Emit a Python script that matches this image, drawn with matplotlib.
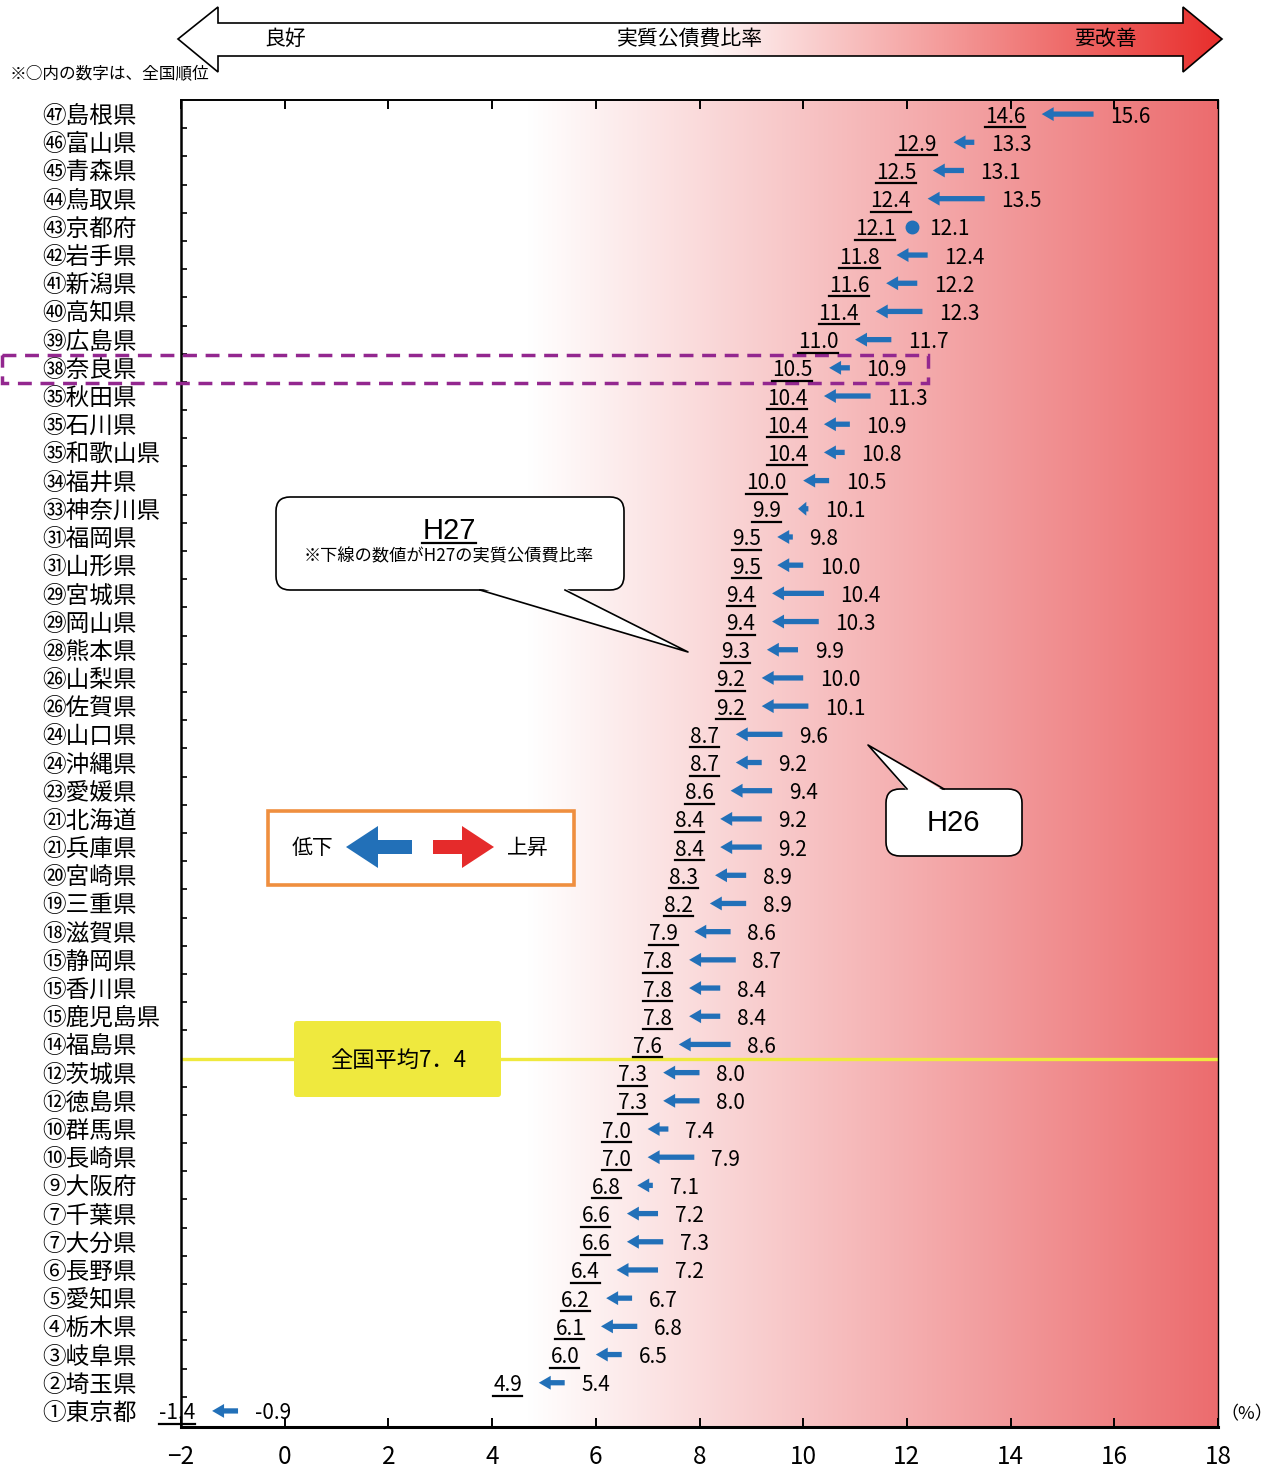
import numpy as np
import matplotlib
matplotlib.use('Agg')
import matplotlib.pyplot as plt
from matplotlib.patches import Polygon, FancyBboxPatch, Rectangle
from matplotlib.lines import Line2D

plt.rcParams['font.family'] = ['Noto Sans CJK JP', 'DejaVu Sans']

# data, top row (worst) first
ranks = [47, 46, 45, 44, 43, 42, 41, 40, 39, 38, 35, 35, 35, 34, 33, 31, 31, 29, 29, 28,
         26, 26, 24, 24, 23, 21, 21, 20, 19, 18, 15, 15, 15, 14, 12, 12, 10, 10, 9, 7,
         7, 6, 5, 4, 3, 2, 1]
prefs = ['島根県', '富山県', '青森県', '鳥取県', '京都府', '岩手県', '新潟県', '高知県', '広島県', '奈良県',
         '秋田県', '石川県', '和歌山県', '福井県', '神奈川県', '福岡県', '山形県', '宮城県', '岡山県', '熊本県',
         '山梨県', '佐賀県', '山口県', '沖縄県', '愛媛県', '北海道', '兵庫県', '宮崎県', '三重県', '滋賀県',
         '静岡県', '香川県', '鹿児島県', '福島県', '茨城県', '徳島県', '群馬県', '長崎県', '大阪府', '千葉県',
         '大分県', '長野県', '愛知県', '栃木県', '岐阜県', '埼玉県', '東京都']
h27 = [14.6, 12.9, 12.5, 12.4, 12.1, 11.8, 11.6, 11.4, 11.0, 10.5,
       10.4, 10.4, 10.4, 10.0, 9.9, 9.5, 9.5, 9.4, 9.4, 9.3,
       9.2, 9.2, 8.7, 8.7, 8.6, 8.4, 8.4, 8.3, 8.2, 7.9,
       7.8, 7.8, 7.8, 7.6, 7.3, 7.3, 7.0, 7.0, 6.8, 6.6,
       6.6, 6.4, 6.2, 6.1, 6.0, 4.9, -1.4]
h26 = [15.6, 13.3, 13.1, 13.5, 12.1, 12.4, 12.2, 12.3, 11.7, 10.9,
       11.3, 10.9, 10.8, 10.5, 10.1, 9.8, 10.0, 10.4, 10.3, 9.9,
       10.0, 10.1, 9.6, 9.2, 9.4, 9.2, 9.2, 8.9, 8.9, 8.6,
       8.7, 8.4, 8.4, 8.6, 8.0, 8.0, 7.4, 7.9, 7.1, 7.2,
       7.3, 7.2, 6.7, 6.8, 6.5, 5.4, -0.9]
national_avg = 7.4
avg_row_gap = 12.5   # line drawn between 福島県 and 茨城県

W, H = 1277, 1468
blue = '#2270b8'
yellow = '#efe93e'


def circled(n):
    if n <= 20:
        return chr(0x2460 + n - 1)
    if n <= 35:
        return chr(0x3251 + n - 21)
    return chr(0x32B1 + n - 36)


n = len(prefs)
ys = np.arange(n)[::-1]
labels = [circled(r) + p for r, p in zip(ranks, prefs)]

fig = plt.figure(figsize=(W / 100, H / 100), dpi=100)
ax = fig.add_axes([181 / W, 1 - 1427 / H, (1218 - 181) / W, (1427 - 100) / H])
ax.set_zorder(1)

xmin, xmax = -2, 18
ymin, ymax = -0.57, 46.5

# background gradient white -> red
gx = np.linspace(xmin, xmax, 500)
t = np.clip((gx - 4.7) / (xmax - 4.7), 0, 1)
red_end = np.array([236, 108, 110]) / 255
grad = (1 - t)[:, None] * np.ones(3) + t[:, None] * red_end
ax.imshow(grad[None, :, :], extent=[xmin, xmax, ymin, ymax], aspect='auto', zorder=0)

# arrows H26 -> H27
px_per_unit = (1218 - 181) / (xmax - xmin)
h27_texts = []
for y, a, b in zip(ys, h27, h26):
    if a == b:
        ax.plot(a, y, 'o', color=blue, ms=9, zorder=3)
    else:
        len_pt = abs(b - a) * px_per_unit * 0.72
        hl = min(0.86, 0.8 * len_pt / 10)
        ax.annotate('', xy=(a, y), xytext=(b, y),
                    arrowprops=dict(arrowstyle=f'simple,head_length={hl},head_width=1.0,tail_width=0.38',
                                    fc=blue, ec='none', shrinkA=0, shrinkB=0, mutation_scale=10),
                    zorder=3)
    t27 = ax.annotate(f'{a:.1f}', xy=(a, y), xytext=(-12, 0), textcoords='offset points',
                      ha='right', va='center_baseline', fontsize=15, zorder=4)
    h27_texts.append(t27)
    ax.annotate(f'{b:.1f}', xy=(b, y), xytext=(12, 0), textcoords='offset points',
                ha='left', va='center_baseline', fontsize=15, zorder=4)

ax.axhline(avg_row_gap, color=yellow, lw=2.4, zorder=2)

ax.set_xlim(xmin, xmax)
ax.set_ylim(ymin, ymax)
ax.set_xticks(np.arange(xmin, xmax + 1, 2))
ax.tick_params(axis='x', direction='in', length=6.5, width=1.4, top=True, labelsize=17.5, pad=12)
ax.set_yticks(ys, labels)
ax.set_yticks(np.arange(0.5, n - 1, 1), minor=True)
ax.tick_params(axis='y', which='major', length=0, pad=100, labelsize=17)
ax.tick_params(axis='y', which='minor', direction='in', length=4.5, width=1.2)
for lbl in ax.get_yticklabels():
    lbl.set_ha('left')
ax.spines['left'].set_linewidth(1.8)
ax.spines['bottom'].set_linewidth(2.2)
ax.spines['top'].set_linewidth(1.4)
ax.spines['right'].set_linewidth(1.0)

# overlay for decorations, in pixel coordinates
ov = fig.add_axes([0, 0, 1, 1])
ov.set_zorder(2)
ov.axis('off')

# top double arrow with gradient
arrow_pts = [(178, 39), (218, 7), (218, 23), (1183, 23), (1183, 7), (1222, 39),
             (1183, 72), (1183, 56), (218, 56), (218, 72)]
poly = Polygon(arrow_pts, closed=True, fc='none', ec='black', lw=1.2, zorder=3)
ov.add_patch(poly)
tx = np.linspace(178, 1222, 500)
tt = np.clip((tx - 690) / (1222 - 690), 0, 1)
top_red = np.array([232, 46, 44]) / 255
tgrad = (1 - tt)[:, None] * np.ones(3) + tt[:, None] * top_red
im = ov.imshow(tgrad[None, :, :], extent=[178, 1222, 72, 7], aspect='auto', zorder=2)
im.set_clip_path(poly)
ov.text(285, 39, '良好', ha='center', va='center', fontsize=15, zorder=4)
ov.text(690, 39, '実質公債費比率', ha='center', va='center', fontsize=15, zorder=4)
ov.text(1105, 39, '要改善', ha='center', va='center', fontsize=15, zorder=4)
ov.text(10, 74, '※○内の数字は、全国順位', ha='left', va='center', fontsize=12, zorder=4)


def callout(x0, y0, x1, y1, b1, tip, b2, inset):
    ov.add_patch(FancyBboxPatch((x0, y0), x1 - x0, y1 - y0,
                                boxstyle='round,pad=0,rounding_size=14',
                                fc='white', ec='black', lw=1.2, zorder=3))
    ov.add_patch(Polygon([(b1[0], b1[1] + inset), tip, (b2[0], b2[1] + inset)],
                         closed=True, fc='white', ec='none', zorder=4))
    ov.add_line(Line2D([b1[0], tip[0], b2[0]], [b1[1], tip[1], b2[1]],
                       color='black', lw=1.2, zorder=5))


callout(276, 497, 624, 590, (480, 590), (688, 652), (565, 590), -2)
t_h27 = ov.text(449, 531, 'H27', ha='center', va='center', fontsize=21,
                family=['Liberation Sans', 'DejaVu Sans'], zorder=6)
ov.text(449, 556, '※下線の数値がH27の実質公債費比率', ha='center', va='center',
        fontsize=12.4, zorder=6)

callout(886, 789, 1022, 856, (907, 789), (868, 745), (944, 789), 2)
ov.text(953, 823, 'H26', ha='center', va='center', fontsize=21,
        family=['Liberation Sans', 'DejaVu Sans'], zorder=6)

# legend box
ov.add_patch(Rectangle((268, 811), 306, 74, fc='white', ec='#ef8f3f', lw=2.6, zorder=3))
ov.add_patch(Polygon([(346, 847), (378, 826), (378, 840), (412, 840), (412, 854), (378, 854), (378, 868)],
                     closed=True, fc=blue, ec='none', zorder=4))
ov.add_patch(Polygon([(494, 847), (462, 826), (462, 840), (433, 840), (433, 854), (462, 854), (462, 868)],
                     closed=True, fc='#e52b2b', ec='none', zorder=4))
ov.text(313, 848, '低下', ha='center', va='center', fontsize=15, zorder=5)
ov.text(528, 848, '上昇', ha='center', va='center', fontsize=15, zorder=5)

# national average box
ov.add_patch(FancyBboxPatch((294, 1021), 207, 76, boxstyle='round,pad=0,rounding_size=3',
                            fc=yellow, ec='none', zorder=3))
ov.text(398, 1060, f'全国平均{int(national_avg)}．{int(round(national_avg * 10)) % 10}',
        ha='center', va='center', fontsize=16, zorder=4)

# Nara highlight
ov.add_patch(Rectangle((2, 355), 926, 28, fill=False, ec='#93278f', lw=2.5,
                       ls=(0, (4, 2.5)), zorder=5))

ov.text(1247, 1414, '（%）', ha='center', va='center', fontsize=13, zorder=4)

ov.set_xlim(0, W)
ov.set_ylim(H, 0)

# underline H27 values
fig.canvas.draw()
inv = fig.transFigure.inverted()
for tobj, off in [(tt_, 0.5) for tt_ in h27_texts] + [(t_h27, 2.5)]:
    bb = tobj.get_window_extent()
    yl = bb.y0 + off
    (fx0, fy), (fx1, _) = inv.transform([(bb.x0, yl), (bb.x1, yl)])
    fig.add_artist(Line2D([fx0, fx1], [fy, fy], color='black', lw=1.6, zorder=10))

fig.savefig('out.png', dpi=100)
